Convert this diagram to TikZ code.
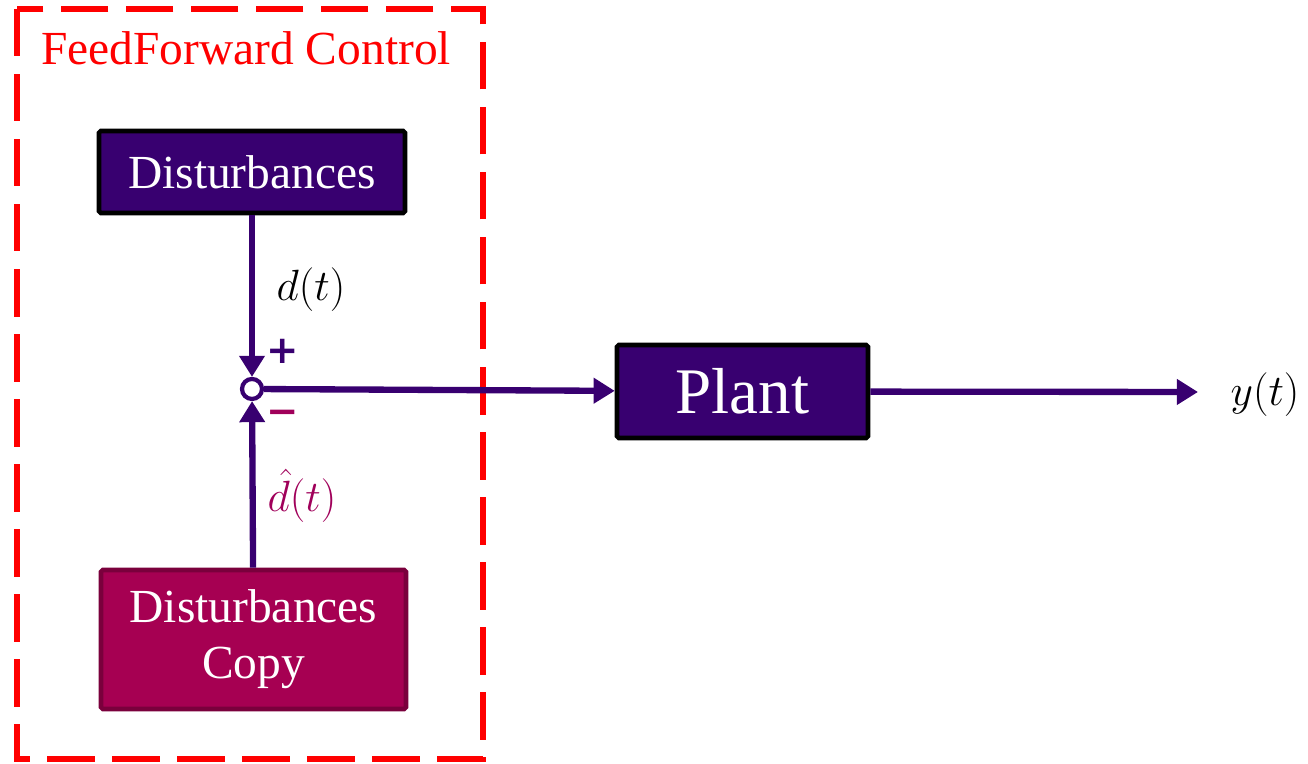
\documentclass[tikz,border=0pt]{standalone}
\usepackage{fontspec}
\newfontfamily\ffserif{Liberation Serif}
\newfontfamily\ffsign{DejaVu Sans}
\usetikzlibrary{arrows.meta}
\definecolor{ffpurple}{RGB}{56,0,112}
\definecolor{ffmagenta}{RGB}{166,0,82}
\definecolor{ffmagentadark}{RGB}{122,0,60}
\definecolor{fftext}{RGB}{160,0,90}
\tikzset{
  blockbox/.style={draw=black,line width=2.6pt,fill=ffpurple,text=white,rounded corners=1pt},
  flow/.style={ffpurple,line width=3.6pt,-{Triangle[length=12pt,width=14pt]}},
}
\begin{document}
\begin{tikzpicture}
\useasboundingbox (0,0) rectangle (26.16,15.28);
\draw[red,line width=3pt,dash pattern=on 27pt off 10pt] (0.34,15.1) rectangle (9.66,0.1);
\node[red,font=\ffserif\fontsize{27}{30}\selectfont] (ff) at (4.92,14.32) {FeedForward Control};
\node[blockbox,minimum width=6.12cm,minimum height=1.64cm,font=\ffserif\fontsize{27}{30}\selectfont] (dist) at (5.04,11.84) {Disturbances};
\node[blockbox,minimum width=5.02cm,minimum height=1.86cm,font=\ffserif\fontsize{37}{40}\selectfont] (plant) at (14.85,7.45) {Plant};
\node[blockbox,draw=ffmagentadark,fill=ffmagenta,minimum width=6.1cm,minimum height=2.78cm,align=center,font=\ffserif\fontsize{27}{32}\selectfont] (copy) at (5.07,2.49) {Disturbances\\Copy};
\node[circle,draw=ffpurple,line width=2.4pt,fill=white,minimum size=0.4cm,inner sep=0pt] (sum) at (5.04,7.5) {};
\coordinate (out) at (23.96,7.44);
\draw[flow] (dist) -- (sum);
\draw[flow] (copy) -- (sum);
\draw[flow] (sum) -- (plant);
\draw[flow] (plant) -- (out);
\node[font=\fontsize{25}{27}\selectfont] (dlab) at (6.22,9.48) {$d(t)$};
\node[text=ffpurple,font=\ffsign\bfseries\fontsize{22}{24}\selectfont] (plus) at (5.66,8.26) {+};
\node[text=fftext,font=\ffsign\bfseries\fontsize{22}{24}\selectfont] (minus) at (5.66,6.94) {−};
\node[text=fftext,font=\fontsize{25}{27}\selectfont] (dhat) at (6.04,5.36) {$\hat{d}(t)$};
\node[font=\fontsize{25}{27}\selectfont] (ylab) at (25.3,7.38) {$y(t)$};
\end{tikzpicture}
\end{document}
